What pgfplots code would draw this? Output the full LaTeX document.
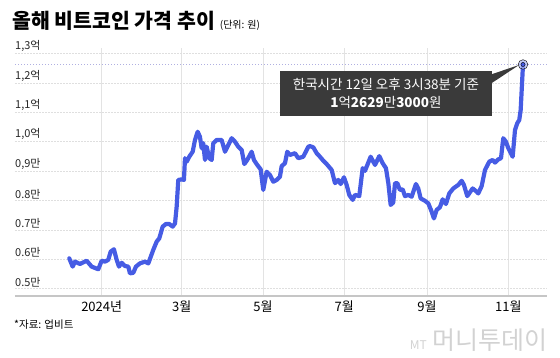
\documentclass[border=0pt]{standalone}
\usepackage{pgfplots}
\pgfplotsset{compat=1.18}
\usepackage{fontspec}
\setmainfont{Noto Sans CJK KR}
\definecolor{btc}{RGB}{70,92,228}
\definecolor{boxc}{RGB}{58,58,58}
\definecolor{refl}{RGB}{176,176,225}
\begin{document}
\begin{tikzpicture}[x=1pt,y=1pt]
\path[use as bounding box] (0,0) rectangle (560,-358);
\node[anchor=base west,inner sep=0pt] at (12,-29) {\fontsize{20.5}{23}\selectfont\bfseries 올해 비트코인 가격 추이\hspace{5pt}{\fontsize{10}{11}\selectfont\mdseries (단위: 원)}};
\begin{axis}[
  at={(15pt,-296pt)}, anchor=south west,
  scale only axis, width=532pt, height=248pt,
  xmin=-65, xmax=334, ymin=0.475, ymax=1.319,
  axis x line*=bottom, axis y line*=left,
  x axis line style={draw=gray!45, line width=1.6pt, -},
  y axis line style={draw=none},
  major tick length=0pt,
  xtick={0,60,121,182,244,305},
  xticklabels={2024년,3월,5월,7월,9월,11월},
  xticklabel style={font=\fontsize{13}{15}\selectfont, yshift=-1pt},
  ytick={0.5,0.6,0.7,0.8,0.9,1.0,1.1,1.2,1.3},
  yticklabels={{0.5만},{0.6만},{0.7만},{0.8만},{0,9만},{1,0억},{1,1억},{1,2억},{1,3억}},
  yticklabel style={font=\fontsize{11}{12}\selectfont, anchor=south west, inner xsep=0pt, inner ysep=1.5pt, text=black!85},
  grid=major,
  x grid style={draw=gray!22, line width=0.6pt},
  y grid style={draw=gray!25, line width=0.5pt, dash pattern=on 2pt off 1pt},
  clip=false,
]
\addplot[draw=refl, line width=1pt, dotted] coordinates {(-65,1.2629) (334,1.2629)};
\addplot[btc, line width=4.2pt, line join=round, line cap=round] coordinates {
(-24.3,0.603) (-21.75,0.575) (-20,0.592) (-16.3,0.584) (-11.25,0.595) (-7.5,0.575) (-2.55,0.566) (0,0.595)
(2.5,0.592) (4.95,0.598) (6.75,0.626) (9.2,0.634) (11.25,0.598) (13,0.575) (15,0.588) (17.5,0.577)
(20,0.575) (21.2,0.552) (23.7,0.554) (25.7,0.575) (28.7,0.586) (32.5,0.592) (35,0.586) (38.7,0.632)
(41.25,0.660) (43.2,0.671) (45.75,0.711) (48.2,0.720) (50.7,0.720) (53.25,0.711) (55,0.722) (56.25,0.779)
(57.45,0.870) (60,0.872) (61.7,0.870) (62.5,0.944) (63.75,0.932) (65.7,0.949) (68.25,0.966) (70,1.006)
(72,1.034) (73.7,1.017) (75,0.978) (76.2,0.995) (77.5,0.938) (78.75,0.983) (80.7,0.944) (82.5,0.938)
(83.7,0.995) (86.25,1.006) (90,1.006) (92.5,0.966) (95,0.989) (97.5,1.012) (100,1.000) (102.45,0.983)
(105,0.972) (107,0.924) (109.2,0.938) (112.5,0.966) (114.2,0.938) (116.7,0.921) (119.25,0.906) (121.2,0.836)
(123.75,0.898) (126.2,0.887) (128.7,0.864) (131.25,0.870) (133.7,0.881) (135,0.917) (137.5,0.927) (139.2,0.966)
(141.2,0.955) (145,0.961) (147.45,0.944) (151.2,0.949) (155,0.983) (156.2,0.985) (158.7,0.981) (161.25,0.961)
(163.7,0.949) (165.75,0.938) (168.75,0.924) (172.5,0.904) (175,0.859) (177.45,0.870) (179.25,0.856) (181.7,0.879)
(183.75,0.853) (185.7,0.819) (188.25,0.802) (190,0.819) (193.2,0.815) (195.75,0.910) (197.5,0.901) (201.75,0.949)
(205,0.921) (208.2,0.951) (210.75,0.927) (213.2,0.910) (215,0.859) (216.75,0.785) (218.7,0.793) (220,0.859)
(221.7,0.859) (223.7,0.836) (225.75,0.838) (227.5,0.815) (230,0.819) (232.5,0.813) (235.7,0.856) (237.45,0.841)
(239.25,0.807) (242.5,0.799) (245,0.790) (247.5,0.762) (249.2,0.739) (251.25,0.768) (253.7,0.777) (255.75,0.804)
(258.2,0.788) (260.7,0.824) (263.7,0.841) (267.45,0.853) (270,0.867) (271.7,0.853) (274.2,0.815) (278.25,0.841)
(281.25,0.830) (282.45,0.824) (285,0.849) (287.5,0.904) (290.7,0.932) (293.25,0.938) (295,0.929) (297.45,0.940)
(299.5,0.944) (301.2,1.012) (303.2,1.000) (305,0.978) (308.25,0.949) (310,1.040) (311.7,1.063) (313.2,1.074)
(314.25,1.108) (316,1.2629)
};
\addplot[only marks, mark=*, mark size=4.8pt, mark options={fill=btc!45, draw=none, fill opacity=0.7}] coordinates {(316,1.2629)};
\addplot[only marks, mark=*, mark size=2.1pt, mark options={fill=btc, draw=none}] coordinates {(316,1.2629)};
\fill[boxc] (axis cs:292,1.229) -- (axis cs:313,1.261) -- (axis cs:292,1.198) -- cycle;
\node[fill=boxc, text=white, minimum width=212pt, minimum height=45pt, inner sep=0pt, align=center,
  font=\fontsize{13.5}{18}\selectfont] at (axis cs:213.2,1.164)
  {한국시간 12일 오후 3시38분 기준\\ {\bfseries 1}억{\bfseries 2629}만{\bfseries 3000}원};
\end{axis}
\node[anchor=west, inner sep=0pt] at (14,-325) {\fontsize{10.5}{12}\selectfont *자료: 업비트};
\node[anchor=east, inner sep=0pt, text=gray!35] at (548,-340) {\fontsize{12}{13}\selectfont\itshape MT\hspace{6pt}\fontsize{25}{27}\selectfont\upshape 머니투데이};
\end{tikzpicture}
\end{document}
